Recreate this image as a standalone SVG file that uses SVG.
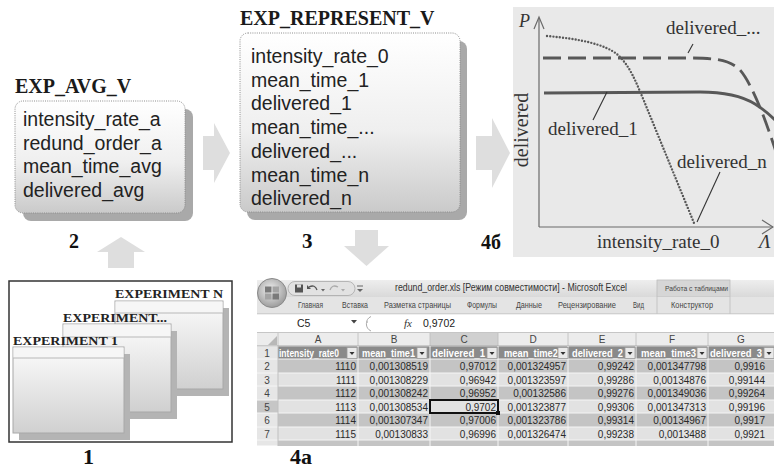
<svg xmlns="http://www.w3.org/2000/svg" width="774" height="470" viewBox="0 0 774 470">
<defs>
<linearGradient id="boxG" x1="0" y1="0" x2="0" y2="1">
<stop offset="0" stop-color="#ffffff"/><stop offset="0.55" stop-color="#efefef"/><stop offset="1" stop-color="#cacaca"/>
</linearGradient>
<linearGradient id="winG" x1="0" y1="0" x2="0" y2="1">
<stop offset="0" stop-color="#fbfbfb"/><stop offset="1" stop-color="#d0d0d0"/>
</linearGradient>
<linearGradient id="tbG" x1="0" y1="0" x2="0" y2="1">
<stop offset="0" stop-color="#eeeeee"/><stop offset="1" stop-color="#d9d9d9"/>
</linearGradient>
<radialGradient id="orbG" cx="0.45" cy="0.4" r="0.6">
<stop offset="0" stop-color="#f2f2f2"/><stop offset="1" stop-color="#9c9c9c"/>
</radialGradient>
<g id="fb"><rect x="0" y="0" width="10" height="11" fill="#e9e9e9" stroke="#9a9a9a" stroke-width="0.8"/><polygon points="2.5,4.5 7.5,4.5 5,7.5" fill="#333"/></g>
</defs>
<style>
.ttl{font-family:"Liberation Serif","Times New Roman",serif;font-weight:bold;font-size:20px;fill:#1a1a1a}
.fld{font-family:"Liberation Sans",Arial,sans-serif;font-size:19.5px;fill:#222}
.num{font-family:"Liberation Serif","Times New Roman",serif;font-weight:bold;font-size:22px;fill:#111}
.box{stroke:#8c8c8c;stroke-width:1;stroke-dasharray:1 1.2;fill:url(#boxG)}
.shadow{fill:#a9a9a9}
.arrow{fill:#dedede}
.win{fill:url(#winG);stroke:#a8a8a8;stroke-width:1}
.wbar{stroke:#b8b8b8;stroke-width:1}
.wsh{fill:#b4b4b4}
.wt{font-family:"Liberation Serif","Times New Roman",serif;font-weight:bold;font-size:13.5px;fill:#222}
.pl{font-family:"Liberation Serif","Times New Roman",serif;font-size:19px;fill:#333}
.ax{stroke:#6a6a6a;stroke-width:1.2;fill:none}
.ld{stroke:#333;stroke-width:1.1}
.crv{fill:none;stroke:#585858}
.xs{font-family:"Liberation Sans",Arial,sans-serif;font-size:10px;fill:#2a2a2a;text-anchor:end}
.xh{font-family:"Liberation Sans",Arial,sans-serif;font-size:10px;font-weight:bold;fill:#ffffff}
.tab{font-family:"Liberation Sans",Arial,sans-serif;font-size:8.5px;fill:#444}
.cl{font-family:"Liberation Sans",Arial,sans-serif;font-size:10px;fill:#444;text-anchor:middle}
.rn{font-family:"Liberation Sans",Arial,sans-serif;font-size:10px;fill:#444;text-anchor:middle}
.dk{fill:#c4c4c4}
.lt{fill:#e2e2e2}
.gl{stroke:#f5f5f5;stroke-width:1}
</style>
<rect x="0" y="0" width="774" height="470" fill="#ffffff"/>

<!-- connectors (block arrows) -->
<g id="connectors">
<polygon class="arrow" points="108,268 134,268 134,252 145,252 121,237 97,252 108,252"/>
<polygon class="arrow" points="203,136 214,136 214,123 230,153 214,183 214,170 203,170"/>
<polygon class="arrow" points="476,136 492,136 492,118 510,153 492,188 492,170 476,170"/>
<polygon class="arrow" points="355,230 378,230 378,246 389,246 366.5,266 344,246 355,246"/>
</g>

<!-- node 1: experiments -->
<g id="node-experiments">
<rect x="9" y="281" width="223" height="161" fill="#ffffff" stroke="#333" stroke-width="1.5"/>
<rect class="wsh" x="121" y="308" width="108" height="88"/>
<rect class="win" x="115" y="301" width="108" height="88"/>
<rect x="115.5" y="301.5" width="107" height="11.5" fill="#f6f6f6"/>
<line class="wbar" x1="115" y1="313" x2="223" y2="313"/>
<text class="wt" x="115" y="298" textLength="108" lengthAdjust="spacingAndGlyphs">EXPERIMENT  N</text>
<rect class="wsh" x="69" y="331" width="108" height="88"/>
<rect class="win" x="63" y="324" width="108" height="88"/>
<rect x="63.5" y="324.5" width="107" height="12.5" fill="#f6f6f6"/>
<line class="wbar" x1="63" y1="337" x2="171" y2="337"/>
<text class="wt" x="63" y="322" textLength="104" lengthAdjust="spacingAndGlyphs">EXPERIMENT...</text>
<rect class="wsh" x="19" y="354" width="111" height="86"/>
<rect class="win" x="13" y="347" width="111" height="86"/>
<rect x="13.5" y="347.5" width="110" height="10.5" fill="#f6f6f6"/>
<line class="wbar" x1="13" y1="358" x2="124" y2="358"/>
<text class="wt" x="13" y="345" textLength="105" lengthAdjust="spacingAndGlyphs">EXPERIMENT  1</text>
<text class="num" x="83" y="464">1</text>
</g>

<!-- node 2: EXP_AVG_V -->
<g id="node-avg">
<text class="ttl" x="15" y="93">EXP_AVG_V</text>
<rect class="shadow" x="23" y="109" width="170" height="112" rx="8"/>
<rect class="box" x="15" y="101" width="170" height="112" rx="8"/>
<text class="fld" x="23" y="126">intensity_rate_a</text>
<text class="fld" x="23" y="150">redund_order_a</text>
<text class="fld" x="23" y="173">mean_time_avg</text>
<text class="fld" x="23" y="197">delivered_avg</text>
<text class="num" x="69" y="248" style="font-size:20px">2</text>
</g>

<!-- node 3: EXP_REPRESENT_V -->
<g id="node-represent">
<text class="ttl" x="240" y="25">EXP_REPRESENT_V</text>
<rect class="shadow" x="247" y="41" width="220" height="179" rx="8"/>
<rect class="box" x="240" y="33" width="220" height="179" rx="8"/>
<text class="fld" x="251" y="63">intensity_rate_0</text>
<text class="fld" x="251" y="87">mean_time_1</text>
<text class="fld" x="251" y="110">delivered_1</text>
<text class="fld" x="251" y="134">mean_time_...</text>
<text class="fld" x="251" y="158">delivered_...</text>
<text class="fld" x="251" y="182">mean_time_n</text>
<text class="fld" x="251" y="205">delivered_n</text>
<text class="num" x="302" y="248" style="font-size:21px">3</text>
</g>

<!-- node 4b: plot -->
<g id="node-plot">
<rect x="513" y="7" width="261" height="250" fill="#e9e9e9"/>
<line class="ax" x1="539" y1="18" x2="539" y2="227"/>
<polyline class="ax" points="534,29 539,17 544,29"/>
<line class="ax" x1="539" y1="227" x2="773" y2="227"/>
<polyline class="ax" points="762,220 773,227 762,234"/>
<path class="crv" d="M543,58 H690 C715,58 730,60 740,70 C752,84 765,118 776,152" stroke-width="2.8" stroke-dasharray="18 7"/>
<path class="crv" d="M544,93 L700,92 C725,92 742,96 755,104 C763,109 770,115 776,121" stroke-width="2.8"/>
<path class="crv" d="M547,36 C580,39 605,44 618,55 C630,66 636,82 644,101 L694,223" stroke="#666" stroke-width="2.4" stroke-linecap="round" stroke-dasharray="0 3.2"/>
<line class="ld" x1="688" y1="53" x2="693" y2="44"/>
<line class="ld" x1="607" y1="92" x2="593" y2="120"/>
<line class="ld" x1="697" y1="222" x2="720" y2="172"/>
<text class="pl" x="519" y="27" style="font-style:italic;font-size:18px">P</text>
<text class="pl" transform="translate(528,130) rotate(-90)" text-anchor="middle" style="font-size:20px">delivered</text>
<text class="pl" x="666" y="34">delivered_...</text>
<text class="pl" x="548" y="135">delivered_1</text>
<text class="pl" x="677" y="168">delivered_n</text>
<text class="pl" x="597" y="248">intensity_rate_0</text>
<text class="pl" x="759" y="248" style="font-style:italic">Λ</text>
<text class="num" x="481" y="249" style="font-size:20px">4б</text>
</g>

<!-- node 4a: excel -->
<g id="node-excel">
<rect x="257" y="280" width="517" height="17" fill="url(#tbG)"/>
<rect x="657" y="280" width="73" height="17" fill="#d6d6d6" stroke="#bdbdbd" stroke-width="0.8"/>
<rect x="257" y="297" width="517" height="17" fill="#e4e4e4"/>
<line x1="257" y1="314" x2="774" y2="314" stroke="#bdbdbd"/>
<line x1="657" y1="297" x2="657" y2="314" stroke="#c4c4c4"/>
<line x1="730" y1="297" x2="730" y2="314" stroke="#c4c4c4"/>
<rect x="257" y="314.5" width="517" height="18" fill="#ffffff"/>
<line x1="257" y1="332.5" x2="774" y2="332.5" stroke="#c6c6c6"/>
<circle cx="272" cy="293" r="14.5" fill="url(#orbG)" stroke="#8a8a8a"/>
<rect x="265" y="286.5" width="6.5" height="6" fill="#7a7a7a"/>
<rect x="272.5" y="286.5" width="6.5" height="6" fill="#a4a4a4"/>
<rect x="265" y="293.5" width="6.5" height="6" fill="#a4a4a4"/>
<rect x="272.5" y="293.5" width="6.5" height="6" fill="#7a7a7a"/>
<rect x="288" y="281.5" width="67" height="14" rx="7" fill="#e2e2e2" stroke="#a8a8a8" stroke-width="0.8"/>
<rect x="295" y="284.5" width="8" height="8" fill="#555"/>
<rect x="297" y="284.5" width="4" height="3" fill="#ddd"/>
<path d="M309,287 q6,-3 8,3" fill="none" stroke="#555" stroke-width="1.3"/>
<polygon points="307,285 311,289 307,289" fill="#555"/>
<polygon points="321,289 325,289 323,291.5" fill="#666"/>
<path d="M338,287 q-6,-3 -8,3" fill="none" stroke="#aaa" stroke-width="1.3"/>
<polygon points="341,289 345,289 343,291.5" fill="#aaa"/>
<line x1="357" y1="286" x2="363" y2="286" stroke="#666"/>
<polygon points="357,289 363,289 360,292" fill="#666"/>
<text class="tab" x="395" y="291" textLength="232" lengthAdjust="spacingAndGlyphs" style="font-size:10px;fill:#333">redund_order.xls  [Режим совместимости] - Microsoft Excel</text>
<text class="tab" x="665" y="291" textLength="63" lengthAdjust="spacingAndGlyphs" style="font-size:8px">Работа с таблицами</text>
<text class="tab" x="298" y="308" textLength="25" lengthAdjust="spacingAndGlyphs">Главная</text>
<text class="tab" x="342" y="308" textLength="26" lengthAdjust="spacingAndGlyphs">Вставка</text>
<text class="tab" x="384" y="308" textLength="67" lengthAdjust="spacingAndGlyphs">Разметка страницы</text>
<text class="tab" x="467" y="308" textLength="30" lengthAdjust="spacingAndGlyphs">Формулы</text>
<text class="tab" x="516" y="308" textLength="26" lengthAdjust="spacingAndGlyphs">Данные</text>
<text class="tab" x="558" y="308" textLength="58" lengthAdjust="spacingAndGlyphs">Рецензирование</text>
<text class="tab" x="633" y="308" textLength="11" lengthAdjust="spacingAndGlyphs">Вид</text>
<text class="tab" x="671" y="308" textLength="42" lengthAdjust="spacingAndGlyphs">Конструктор</text>
<text x="297" y="326.5" style="font-family:'Liberation Sans',Arial,sans-serif;font-size:10.5px;fill:#222">C5</text>
<polygon points="351,320 357,320 354,323.5" fill="#444"/>
<path d="M371,316.5 A8,8 0 0 0 371,331" fill="none" stroke="#aaa"/>
<circle cx="367" cy="322" r="1" fill="#bbb"/>
<text x="404" y="327" style="font-family:'Liberation Serif',serif;font-style:italic;font-size:11px;fill:#333">fx</text>
<text x="423" y="327" style="font-family:'Liberation Sans',Arial,sans-serif;font-size:10.5px;fill:#222">0,9702</text>
<rect x="257" y="333" width="517" height="13" fill="#ececec"/>
<rect x="430" y="333" width="68" height="13" fill="#d0d0d0"/>
<polygon points="268,345 277,345 277,336" fill="#b8b8b8"/>
<g stroke="#bdbdbd" stroke-width="0.8">
<line x1="278" y1="333" x2="278" y2="346"/><line x1="358" y1="333" x2="358" y2="346"/><line x1="430" y1="333" x2="430" y2="346"/><line x1="498" y1="333" x2="498" y2="346"/><line x1="568" y1="333" x2="568" y2="346"/><line x1="636" y1="333" x2="636" y2="346"/><line x1="708" y1="333" x2="708" y2="346"/>
</g>
<line x1="257" y1="346" x2="774" y2="346" stroke="#a8a8a8"/>
<text class="cl" x="318" y="343">A</text><text class="cl" x="394" y="343">B</text><text class="cl" x="464" y="343">C</text><text class="cl" x="533" y="343">D</text><text class="cl" x="602" y="343">E</text><text class="cl" x="672" y="343">F</text><text class="cl" x="741" y="343">G</text>
<rect x="257" y="346.5" width="21" height="99" fill="#e6e6e6"/>
<rect x="257" y="400" width="21" height="13" fill="#c6c6c6"/>
<rect x="278" y="346.5" width="496" height="12.5" fill="#8a8a8a"/>
<rect class="dk" x="278" y="359" width="496" height="14"/>
<rect class="lt" x="278" y="373" width="496" height="13"/>
<rect class="dk" x="278" y="386" width="496" height="14"/>
<rect class="lt" x="278" y="400" width="496" height="13"/>
<rect class="dk" x="278" y="413" width="496" height="14"/>
<rect class="lt" x="278" y="427" width="496" height="13"/>
<rect class="dk" x="278" y="440" width="496" height="6"/>
<g class="gl">
<line x1="358" y1="346" x2="358" y2="446"/><line x1="430" y1="346" x2="430" y2="446"/><line x1="498" y1="346" x2="498" y2="446"/><line x1="568" y1="346" x2="568" y2="446"/><line x1="636" y1="346" x2="636" y2="446"/><line x1="708" y1="346" x2="708" y2="446"/>
<line x1="257" y1="359" x2="774" y2="359"/><line x1="257" y1="373" x2="774" y2="373"/><line x1="257" y1="386" x2="774" y2="386"/><line x1="257" y1="400" x2="774" y2="400"/><line x1="257" y1="413" x2="774" y2="413"/><line x1="257" y1="427" x2="774" y2="427"/><line x1="257" y1="440" x2="774" y2="440"/>
</g>
<line x1="278" y1="346" x2="278" y2="446" stroke="#c0c0c0"/>
<text class="rn" x="267" y="356.5">1</text><text class="rn" x="267" y="370">2</text><text class="rn" x="267" y="383.5">3</text><text class="rn" x="267" y="397">4</text><text class="rn" x="267" y="410.5">5</text><text class="rn" x="267" y="424">6</text><text class="rn" x="267" y="437.5">7</text>
<text class="xh" x="279" y="356.5" textLength="60" lengthAdjust="spacingAndGlyphs">intensity_rate0</text>
<text class="xh" x="362" y="356.5" textLength="53" lengthAdjust="spacingAndGlyphs">mean_time1</text>
<text class="xh" x="432" y="356.5" textLength="53" lengthAdjust="spacingAndGlyphs">delivered_1</text>
<text class="xh" x="504" y="356.5" textLength="54" lengthAdjust="spacingAndGlyphs">mean_time2</text>
<text class="xh" x="572" y="356.5" textLength="51" lengthAdjust="spacingAndGlyphs">delivered_2</text>
<text class="xh" x="641" y="356.5" textLength="55" lengthAdjust="spacingAndGlyphs">mean_time3</text>
<text class="xh" x="710" y="356.5" textLength="52" lengthAdjust="spacingAndGlyphs">delivered_3</text>
<use href="#fb" x="347" y="347.5"/><use href="#fb" x="417" y="347.5"/><use href="#fb" x="487" y="347.5"/><use href="#fb" x="558" y="347.5"/><use href="#fb" x="625" y="347.5"/><use href="#fb" x="697" y="347.5"/><use href="#fb" x="764" y="347.5"/>
<g>
<text class="xs" x="356" y="370">1110</text><text class="xs" x="428" y="370">0,001308519</text><text class="xs" x="496" y="370">0,97012</text><text class="xs" x="566" y="370">0,001324957</text><text class="xs" x="634" y="370">0,99242</text><text class="xs" x="706" y="370">0,001347798</text><text class="xs" x="765" y="370">0,9916</text>
<text class="xs" x="356" y="383.5">1111</text><text class="xs" x="428" y="383.5">0,001308229</text><text class="xs" x="496" y="383.5">0,96942</text><text class="xs" x="566" y="383.5">0,001323597</text><text class="xs" x="634" y="383.5">0,99286</text><text class="xs" x="706" y="383.5">0,00134876</text><text class="xs" x="765" y="383.5">0,99144</text>
<text class="xs" x="356" y="397">1112</text><text class="xs" x="428" y="397">0,001308242</text><text class="xs" x="496" y="397">0,96952</text><text class="xs" x="566" y="397">0,00132586</text><text class="xs" x="634" y="397">0,99276</text><text class="xs" x="706" y="397">0,001349036</text><text class="xs" x="765" y="397">0,99264</text>
<text class="xs" x="356" y="410.5">1113</text><text class="xs" x="428" y="410.5">0,001308534</text><text class="xs" x="496" y="410.5">0,9702</text><text class="xs" x="566" y="410.5">0,001323877</text><text class="xs" x="634" y="410.5">0,99306</text><text class="xs" x="706" y="410.5">0,001347313</text><text class="xs" x="765" y="410.5">0,99196</text>
<text class="xs" x="356" y="424">1114</text><text class="xs" x="428" y="424">0,001307347</text><text class="xs" x="496" y="424">0,97006</text><text class="xs" x="566" y="424">0,001323786</text><text class="xs" x="634" y="424">0,99314</text><text class="xs" x="706" y="424">0,00134967</text><text class="xs" x="765" y="424">0,9917</text>
<text class="xs" x="356" y="437.5">1115</text><text class="xs" x="428" y="437.5">0,00130833</text><text class="xs" x="496" y="437.5">0,96996</text><text class="xs" x="566" y="437.5">0,001326474</text><text class="xs" x="634" y="437.5">0,99238</text><text class="xs" x="706" y="437.5">0,0013488</text><text class="xs" x="765" y="437.5">0,9921</text>
</g>
<rect x="430" y="400" width="68" height="13" fill="none" stroke="#111" stroke-width="2"/>
<rect x="496" y="411" width="4" height="4" fill="#111"/>
<text class="num" x="290" y="464">4a</text>
</g>
</svg>
